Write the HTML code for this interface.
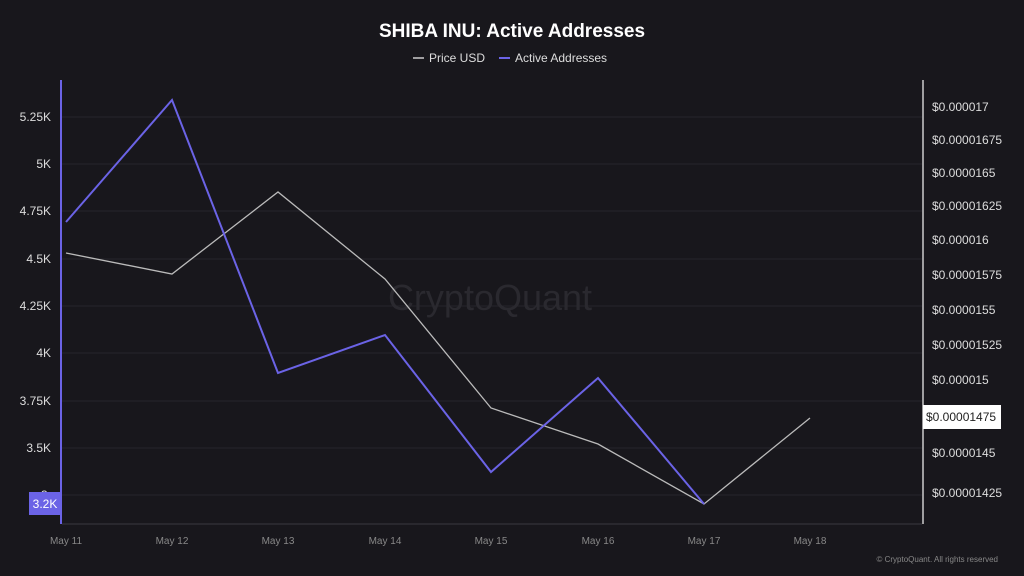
<!DOCTYPE html>
<html><head><meta charset="utf-8"><style>
html,body{margin:0;padding:0;background:#18171c;}
svg{display:block;font-family:"Liberation Sans",sans-serif;}
</style></head><body>
<svg width="1024" height="576" viewBox="0 0 1024 576">
<rect width="1024" height="576" fill="#18171c"/>
<text x="512" y="37" fill="#fff" font-size="19" font-weight="bold" text-anchor="middle">SHIBA INU: Active Addresses</text>
<line x1="413" y1="58" x2="424" y2="58" stroke="#ccc" stroke-width="1.5"/>
<text x="429" y="62" fill="#ddd" font-size="12">Price USD</text>
<line x1="499" y1="58" x2="510" y2="58" stroke="#6b63e6" stroke-width="2"/>
<text x="515" y="62" fill="#ddd" font-size="12">Active Addresses</text>
<g stroke="#26252b" stroke-width="1">
<line x1="62" y1="117" x2="922" y2="117"/><line x1="62" y1="164" x2="922" y2="164"/>
<line x1="62" y1="211" x2="922" y2="211"/><line x1="62" y1="259" x2="922" y2="259"/>
<line x1="62" y1="306" x2="922" y2="306"/><line x1="62" y1="353" x2="922" y2="353"/>
<line x1="62" y1="401" x2="922" y2="401"/><line x1="62" y1="448" x2="922" y2="448"/>
<line x1="62" y1="495" x2="922" y2="495"/>
</g>
<line x1="62" y1="524" x2="922" y2="524" stroke="#3a3940"/>
<text x="490" y="310" fill="#2a292f" font-size="36" text-anchor="middle">CryptoQuant</text>
<g fill="#ddd" font-size="12" text-anchor="end">
<text x="51" y="121">5.25K</text><text x="51" y="168">5K</text><text x="51" y="215">4.75K</text>
<text x="51" y="263">4.5K</text><text x="51" y="310">4.25K</text><text x="51" y="357">4K</text>
<text x="51" y="405">3.75K</text><text x="51" y="452">3.5K</text><text x="51" y="499">3.</text>
</g>
<rect x="29" y="492" width="32" height="23" fill="#6b63e6"/>
<text x="45" y="508" fill="#fff" font-size="12" text-anchor="middle">3.2K</text>
<line x1="61" y1="80" x2="61" y2="524" stroke="#6b63e6" stroke-width="2"/>
<line x1="923" y1="80" x2="923" y2="524" stroke="#ccc" stroke-width="1.5"/>
<g fill="#ddd" font-size="12">
<text x="932" y="111">$0.000017</text><text x="932" y="144">$0.00001675</text>
<text x="932" y="177">$0.0000165</text><text x="932" y="210">$0.00001625</text>
<text x="932" y="244">$0.000016</text><text x="932" y="279">$0.00001575</text>
<text x="932" y="314">$0.0000155</text><text x="932" y="349">$0.00001525</text>
<text x="932" y="384">$0.000015</text><text x="932" y="457">$0.0000145</text>
<text x="932" y="497">$0.00001425</text>
</g>
<rect x="923" y="405" width="78" height="24" fill="#fff"/>
<text x="926" y="421" fill="#222" font-size="12">$0.00001475</text>
<polyline points="66,253 172,274 278,192 385,279 491,408 598,444 704,504 810,418" fill="none" stroke="#bbb" stroke-width="1.3"/>
<polyline points="66,222 172,100 278,373 385,335 491,472 598,378 704,504" fill="none" stroke="#6b63e6" stroke-width="2"/>
<g fill="#888" font-size="10" text-anchor="middle">
<text x="66" y="544">May 11</text><text x="172" y="544">May 12</text><text x="278" y="544">May 13</text>
<text x="385" y="544">May 14</text><text x="491" y="544">May 15</text><text x="598" y="544">May 16</text>
<text x="704" y="544">May 17</text><text x="810" y="544">May 18</text>
</g>
<text x="998" y="562" fill="#888" font-size="8" text-anchor="end">© CryptoQuant. All rights reserved</text>
</svg>
</body></html>
